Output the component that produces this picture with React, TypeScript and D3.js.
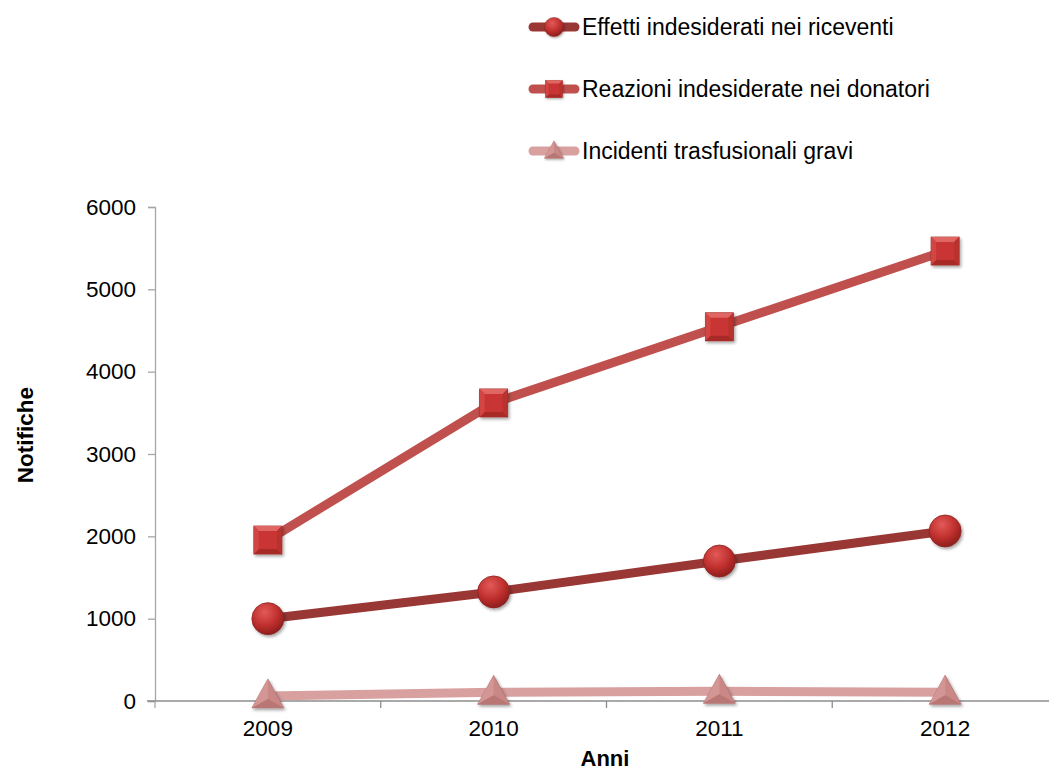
import React, { useEffect, useRef } from 'react';
import * as d3 from 'd3';

const width = 1049;
const height = 772;
const margin = { top: 207, right: -9, bottom: 71, left: 155 };
const font = 'Liberation Sans, Arial, sans-serif';

const years = ['2009', '2010', '2011', '2012'];
const effetti = [1000, 1325, 1700, 2065];
const reazioni = [1955, 3620, 4545, 5465];
const incidenti = [62, 105, 118, 107];
const yTicks = [0, 1000, 2000, 3000, 4000, 5000, 6000];

const seriesNames = [
  'Effetti indesiderati nei riceventi',
  'Reazioni indesiderate nei donatori',
  'Incidenti trasfusionali gravi',
];

const series = [
  { name: seriesNames[0], values: effetti, line: '#993735', shape: 'circle', grad: 'gCircle' },
  { name: seriesNames[1], values: reazioni, line: '#c0504d', shape: 'square', grad: 'gSquare' },
  { name: seriesNames[2], values: incidenti, line: '#d9a0a0', shape: 'triangle', grad: 'gTri' },
];

function drawMarker(g, shape, grad, x, y, scale = 1) {
  const m = g.append('g').attr('transform', `translate(${x},${y}) scale(${scale})`).attr('filter', 'url(#shadow)');
  if (shape === 'circle') {
    m.append('circle').attr('r', 16).attr('fill', `url(#${grad})`).attr('stroke', '#8c2523').attr('stroke-width', 0.8);
  } else if (shape === 'square') {
    m.append('rect').attr('x', -14).attr('y', -14).attr('width', 28).attr('height', 28)
      .attr('fill', '#c93634').attr('stroke', '#9e2a28').attr('stroke-width', 0.8);
    // bevel facets
    m.append('path').attr('d', 'M-14,-14 L14,-14 L9,-9 L-9,-9 Z').attr('fill', '#e06664');
    m.append('path').attr('d', 'M-14,14 L14,14 L9,9 L-9,9 Z').attr('fill', '#a82927');
    m.append('path').attr('d', 'M-14,-14 L-14,14 L-9,9 L-9,-9 Z').attr('fill', '#d24543');
    m.append('path').attr('d', 'M14,-14 L14,14 L9,9 L9,-9 Z').attr('fill', '#b8302e');
  } else {
    m.append('path').attr('d', 'M0,-17 L16,12 L-16,12 Z').attr('fill', '#c98886').attr('stroke', '#a86866').attr('stroke-width', 0.6);
    m.append('path').attr('d', 'M0,-17 L0,3 L-16,12 Z').attr('fill', '#d39694');
    m.append('path').attr('d', 'M0,3 L16,12 L-16,12 Z').attr('fill', '#b87674');
  }
}

function App() {
  const ref = useRef(null);

  useEffect(() => {
    const svg = d3.select(ref.current);
    svg.selectAll('*').remove();

    const defs = svg.append('defs');
    const rg = defs.append('radialGradient').attr('id', 'gCircle').attr('cx', '40%').attr('cy', '30%').attr('r', '70%');
    rg.append('stop').attr('offset', '0%').attr('stop-color', '#e25a58');
    rg.append('stop').attr('offset', '60%').attr('stop-color', '#bf2f2d');
    rg.append('stop').attr('offset', '100%').attr('stop-color', '#8e1f1d');
    const f = defs.append('filter').attr('id', 'shadow').attr('x', '-50%').attr('y', '-50%').attr('width', '200%').attr('height', '200%');
    f.append('feDropShadow').attr('dx', 1.5).attr('dy', 2).attr('stdDeviation', 1.5).attr('flood-color', '#000').attr('flood-opacity', 0.35);

    const x = d3.scaleBand().domain(years).range([margin.left, width - margin.right]);
    const y = d3.scaleLinear().domain([0, 6000]).range([height - margin.bottom, margin.top]);
    const cx = (d) => x(d) + x.bandwidth() / 2;

    // y axis
    const yAxis = svg.append('g').attr('transform', `translate(${margin.left},0)`)
      .call(d3.axisLeft(y).tickValues(yTicks).tickSize(7).tickPadding(12).tickFormat(d3.format('d')));
    yAxis.select('.domain').attr('stroke', '#a6a6a6').attr('stroke-width', 1.3);
    yAxis.selectAll('.tick line').attr('stroke', '#a6a6a6').attr('stroke-width', 1.3);
    yAxis.selectAll('.tick text').attr('font-family', font).attr('font-size', 22.5).attr('fill', '#000');

    // x axis
    const xAxis = svg.append('g').attr('transform', `translate(0,${height - margin.bottom})`);
    xAxis.append('line').attr('x1', margin.left - 8).attr('x2', width).attr('y1', 0).attr('y2', 0)
      .attr('stroke', '#8c8c8c').attr('stroke-width', 1.3);
    xAxis.selectAll('line.tk').data(years.slice(1)).enter().append('line').attr('class', 'tk')
      .attr('x1', (d) => x(d)).attr('x2', (d) => x(d)).attr('y1', 0).attr('y2', 7)
      .attr('stroke', '#8c8c8c').attr('stroke-width', 1.3);
    svg.append('line').attr('x1', margin.left).attr('x2', margin.left).attr('y1', height - margin.bottom).attr('y2', height - margin.bottom + 7)
      .attr('stroke', '#a6a6a6').attr('stroke-width', 1.3);
    xAxis.selectAll('text').data(years).enter().append('text')
      .attr('x', (d) => cx(d)).attr('y', 35).attr('text-anchor', 'middle')
      .attr('font-family', font).attr('font-size', 22.5).text((d) => d);

    // axis titles
    svg.append('text').attr('transform', `translate(33,${435}) rotate(-90)`).attr('text-anchor', 'middle')
      .attr('font-family', font).attr('font-size', 22.5).attr('font-weight', 'bold').text('Notifiche');
    svg.append('text').attr('x', 605).attr('y', 766).attr('text-anchor', 'middle')
      .attr('font-family', font).attr('font-size', 22).attr('font-weight', 'bold').text('Anni');

    // lines
    const line = d3.line().x((d, i) => cx(years[i])).y((d) => y(d));
    series.slice().reverse().forEach((s) => {
      svg.append('path').attr('d', line(s.values)).attr('fill', 'none').attr('stroke', s.line)
        .attr('stroke-width', 9).attr('stroke-linejoin', 'round');
    });
    series.slice().reverse().forEach((s) => {
      const g = svg.append('g');
      s.values.forEach((v, i) => drawMarker(g, s.shape, s.grad, cx(years[i]), y(v)));
    });

    // legend
    const leg = svg.append('g');
    series.forEach((s, i) => {
      const ly = 27 + i * 62;
      leg.append('line').attr('x1', 533).attr('x2', 575).attr('y1', ly).attr('y2', ly)
        .attr('stroke', s.line).attr('stroke-width', 9).attr('stroke-linecap', 'round');
      drawMarker(leg, s.shape, s.grad, 554, ly, 0.6);
      leg.append('text').attr('x', 582).attr('y', ly + 8)
        .attr('font-family', font).attr('font-size', 23).text(s.name);
    });
  }, []);

  return (
    <svg ref={ref} width={width} height={height} style={{ position: 'absolute', left: 0, top: 0, background: '#fff' }} />
  );
}

export default App;
